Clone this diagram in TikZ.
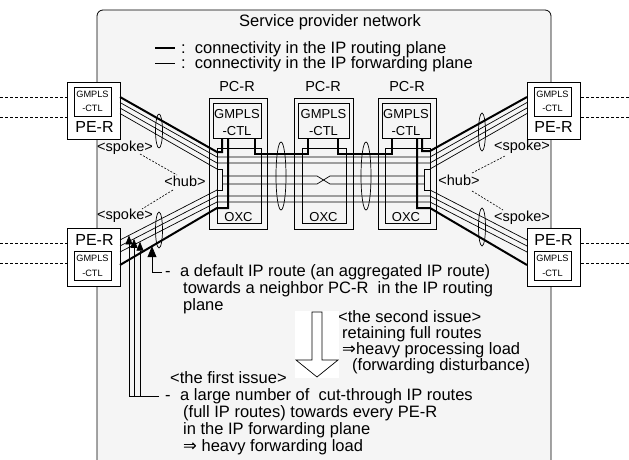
\documentclass[tikz,border=0pt]{standalone}
\usepackage{fontspec}
\setmainfont{Liberation Sans}
\newfontfamily\djv{DejaVu Sans}
\usetikzlibrary{arrows.meta,calc}
\definecolor{bgc}{HTML}{F5F5F5}
\begin{document}
\begin{tikzpicture}[x=1pt,y=-1pt,
  rline/.style={line width=2pt},
  fline/.style={line width=0.7pt},
  bx/.style={draw, line width=0.8pt, inner sep=0pt, outer sep=0pt},
  dashln/.style={line width=0.6pt, dash pattern=on 2pt off 1.5pt},
  edash/.style={line width=0.6pt, dash pattern=on 3pt off 2pt},
  ell/.style={line width=0.7pt},
  big/.style={inner sep=0pt, font=\fontsize{16.5pt}{17pt}\selectfont},
  tl/.style={big, anchor=base west},
  pet/.style={inner sep=0pt, anchor=base, font=\fontsize{16pt}{17pt}\selectfont},
  pct/.style={inner sep=0pt, anchor=base, font=\fontsize{14.5pt}{15pt}\selectfont},
  gt/.style={inner sep=0pt, anchor=base, font=\fontsize{13pt}{14pt}\selectfont},
  sgt/.style={inner sep=0pt, anchor=base, font=\fontsize{9.2pt}{10pt}\selectfont},
  lab/.style={inner sep=0pt, anchor=base, font=\fontsize{14.5pt}{15pt}\selectfont},
  tipa/.style={-{Triangle[length=9pt,width=7pt]}},
  bigtip/.style={-{Triangle[length=11pt,width=9pt]}}
]
\useasboundingbox (0,0) rectangle (629,460);
% service provider network box
\coordinate (bgbl) at (97,463); \coordinate (bgtr) at (551,10); \coordinate (bgbr) at (551,463);
\filldraw[fill=bgc, draw=black, line width=0.8pt, rounded corners=6pt] (bgbl) |- (bgtr) -- (bgbr);
\node[big, anchor=base] (title) at (330,26.5) {Service provider network};

% legend
\coordinate (lg1a) at (155,48); \coordinate (lg1b) at (175,48);
\coordinate (lg2a) at (155,63); \coordinate (lg2b) at (175,63);
\draw[rline] (lg1a) -- (lg1b);
\draw[fline] (lg2a) -- (lg2b);
\node[tl] (lg1) at (181,53.5) {:\ \ connectivity in the IP routing plane};
\node[tl] (lg2) at (181,68.5) {:\ \ connectivity in the IP forwarding plane};

% PC-R boxes
\node[pct] (pcLl) at (237,91.5) {PC-R};
\node[pct] (pcMl) at (323,91.5) {PC-R};
\node[pct] (pcRl) at (407,91.5) {PC-R};
\node[bx, minimum width=58pt, minimum height=131pt] (pcL) at (238,163.5) {};
\node[bx, minimum width=59pt, minimum height=131pt] (pcM) at (323.5,163.5) {};
\node[bx, minimum width=58pt, minimum height=131pt] (pcR) at (407,163.5) {};
\node[bx, minimum width=48pt, minimum height=35pt] (pcLg) at (237,120.5) {};
\node[bx, minimum width=51pt, minimum height=35pt] (pcMg) at (323.5,120.5) {};
\node[bx, minimum width=48pt, minimum height=35pt] (pcRg) at (406,120.5) {};
\node[bx, minimum width=44pt, minimum height=75pt] (pcLo) at (239,185.5) {};
\node[bx, minimum width=44pt, minimum height=75pt] (pcMo) at (324,185.5) {};
\node[bx, minimum width=45pt, minimum height=75pt] (pcRo) at (407.5,185.5) {};
\foreach \n/\x in {L/237,M/323.5,R/406}{
  \node[gt] (g1\n) at (\x,118) {GMPLS};
  \node[gt] (g2\n) at (\x,135) {-CTL};
}
\node[gt] (oxL) at (238.5,221) {OXC};
\node[gt] (oxM) at (323.5,221) {OXC};
\node[gt] (oxR) at (406,221) {OXC};

% PE-R boxes
\node[bx, fill=white, minimum width=53pt, minimum height=57pt] (pe1) at (93.5,110.5) {};
\node[bx, fill=white, minimum width=53pt, minimum height=58pt] (pe2) at (93.5,257) {};
\node[bx, fill=white, minimum width=53pt, minimum height=57pt] (pe3) at (553.5,110.5) {};
\node[bx, fill=white, minimum width=53pt, minimum height=58pt] (pe4) at (553.5,257) {};
\node[bx, minimum width=37pt, minimum height=29pt] (pe1g) at (92.5,101.5) {};
\node[bx, minimum width=37pt, minimum height=29pt] (pe2g) at (92.5,265.5) {};
\node[bx, minimum width=37pt, minimum height=29pt] (pe3g) at (552.5,101.5) {};
\node[bx, minimum width=37pt, minimum height=29pt] (pe4g) at (552.5,265.5) {};
\foreach \n/\x in {1/92.5,3/552.5}{
  \node[sgt] (s1\n) at (\x,97.3) {GMPLS};
  \node[sgt] (s2\n) at (\x,111.7) {-CTL};
}
\foreach \n/\x in {2/92.5,4/552.5}{
  \node[sgt] (s1\n) at (\x,261.7) {GMPLS};
  \node[sgt] (s2\n) at (\x,276) {-CTL};
}
\node[pet] (pt1) at (94.5,132.7) {PE-R};
\node[pet] (pt2) at (94.5,245.7) {PE-R};
\node[pet] (pt3) at (553.5,132.7) {PE-R};
\node[pet] (pt4) at (553.5,245.7) {PE-R};

% outer dashed links
\foreach \n/\y in {a/97,b/117}{
  \coordinate (el\n) at (0,\y); \coordinate (er\n) at (629,\y);
  \draw[edash] (el\n) -- (el\n -| pe1.west);
  \draw[edash] (er\n) -- (er\n -| pe3.east);
}
\foreach \n/\y in {c/243,d/263}{
  \coordinate (el\n) at (0,\y); \coordinate (er\n) at (629,\y);
  \draw[edash] (el\n) -- (el\n -| pe2.west);
  \draw[edash] (er\n) -- (er\n -| pe4.east);
}

% ports
\coordinate (p1r) at (120,97);  \coordinate (p1a) at (120,102.5); \coordinate (p1b) at (120,108); \coordinate (p1c) at (120,113.5);
\coordinate (p2a) at (120,240); \coordinate (p2b) at (120,246); \coordinate (p2c) at (120,252); \coordinate (p2r) at (120,265);
\coordinate (p3r) at (527,97);  \coordinate (p3a) at (527,102.5); \coordinate (p3b) at (527,108); \coordinate (p3c) at (527,113.5);
\coordinate (p4a) at (527,240); \coordinate (p4b) at (527,246); \coordinate (p4c) at (527,252); \coordinate (p4r) at (527,265);
\coordinate (qLa) at (217,157); \coordinate (qLb) at (217,163); \coordinate (qLc) at (217,169);
\coordinate (qLd) at (217,190); \coordinate (qLe) at (217,196); \coordinate (qLf) at (217,202);
\coordinate (qRa) at (430,157); \coordinate (qRb) at (430,163); \coordinate (qRc) at (430,169);
\coordinate (qRd) at (430,190); \coordinate (qRe) at (430,196); \coordinate (qRf) at (430,202);
\coordinate (hLb) at (222,190); \coordinate (hRt) at (424,169);

% forwarding plane (thin)
\draw[fline] (p1a) -- (qLa) -- (qRa) -- (p3a);
\draw[fline] (p1b) -- (qLb) -- (qRb) -- (p3b);
\draw[fline] (p1c) -- (qLc);
\draw[fline] (p3c) -- (qRc);
\draw[fline] (p2a) -- (qLd);
\draw[fline] (p4a) -- (qRd);
\draw[fline] (p2b) -- (qLe) -- (qRe) -- (p4b);
\draw[fline] (p2c) -- (qLf) -- (qRf) -- (p4c);
\draw[fline] (qLc) rectangle (hLb);
\draw[fline] (hRt) rectangle (qRd);
\coordinate (xa1) at (222,176); \coordinate (xa2) at (317,176); \coordinate (xa3) at (330,184); \coordinate (xa4) at (424,184);
\coordinate (xb1) at (222,184); \coordinate (xb2) at (317,184); \coordinate (xb3) at (330,176); \coordinate (xb4) at (424,176);
\draw[fline] (xa1) -- (xa2) -- (xa3) -- (xa4);
\draw[fline] (xb1) -- (xb2) -- (xb3) -- (xb4);

% routing plane (thick)
\draw[rline] (p1r) -- (217,152) -- (222,152) -- (222,138);
\draw[rline] (p2r) -- (217,208) -- (228,208) -- (228,138);
\draw[rline] (p3r) -- (430,151) -- (422,151) -- (422,138);
\draw[rline] (p4r) -- (430,208) -- (417,208) -- (417,138);
\draw[rline] (255,138) -- (255,154) -- (308,154) -- (308,138);
\draw[rline] (338,138) -- (338,154) -- (392,154) -- (392,138);

% bundle ellipses
\draw[ell] (159,131) ellipse [x radius=3.5, y radius=17];
\draw[ell] (159,230) ellipse [x radius=3.5, y radius=18];
\draw[ell] (281,176) ellipse [x radius=5, y radius=34];
\draw[ell] (366,176) ellipse [x radius=5, y radius=34];
\draw[ell] (482,132) ellipse [x radius=3.5, y radius=19];
\draw[ell] (482,227) ellipse [x radius=3.5, y radius=19];

% hub / spoke labels
\node[lab] (spTL) at (125,151.5) {<spoke>};
\node[lab] (hubL) at (185,186) {<hub>};
\node[lab] (spBL) at (125,219) {<spoke>};
\node[lab] (spTR) at (522,150) {<spoke>};
\node[lab] (hubR) at (459,185) {<hub>};
\node[lab] (spBR) at (522,221) {<spoke>};
\coordinate (d1a) at (140,154); \coordinate (d1b) at (177,175);
\coordinate (d2a) at (173,190); \coordinate (d2b) at (142,209);
\coordinate (d3a) at (472,173); \coordinate (d3b) at (505,156);
\coordinate (d4a) at (472,191); \coordinate (d4b) at (503,210);
\draw[dashln] (d1a) -- (d1b);
\draw[dashln] (d2a) -- (d2b);
\draw[dashln] (d3a) -- (d3b);
\draw[dashln] (d4a) -- (d4b);

% arrows to routes
\coordinate (a1) at ($(p2a)!{9/97}!(qLd)$);
\coordinate (a2) at ($(p2b)!{14/97}!(qLe)$);
\coordinate (a3) at ($(p2c)!{20/97}!(qLf)$);
\coordinate (a4) at ($(p2r)!{32/97}!(217,208)$);
\coordinate (b0) at (159,396);
\coordinate (h0) at (162,272);
\draw[fline,tipa] (b0) -| (a1);
\draw[fline,tipa] (a2 |- b0) -- (a2);
\draw[fline,tipa] (a3 |- b0) -- (a3);
\draw[fline,bigtip] (h0) -| (a4);

% texts
\node[tl] (m1) at (165,276) {-};
\node[tl] (t1) at (180,276) {a default IP route (an aggregated IP route)};
\node[tl] (t2) at (183,293) {towards a neighbor PC-R\ \ in the IP routing};
\node[tl] (t3) at (183,310) {plane};
\node[tl] (u1) at (338,322) {<the second issue>};
\node[tl] (u2) at (342,338) {retaining full routes};
\node[tl] (u3) at (342,354) {{\djv ⇒}heavy processing load};
\node[tl] (u4) at (352,370) {(forwarding disturbance)};
\node[tl] (v1) at (170,383) {<the first issue>};
\node[tl] (m2) at (165,400) {-};
\node[tl] (v2) at (180,400) {a large number of\ \ cut-through IP routes};
\node[tl] (v3) at (183,417) {(full IP routes) towards every PE-R};
\node[tl] (v4) at (183,434) {in the IP forwarding plane};
\node[tl] (v5) at (183,451) {{\djv ⇒} heavy forwarding load};

% hollow arrow
\node[fill=white, inner sep=0pt, minimum width=44pt, minimum height=67pt] (wbg) at (317,344.5) {};
\draw[line width=0.7pt, fill=white] (312,312) -- (322,312) -- (322,360) -- (338,360) -- (317,377) -- (296,360) -- (312,360) -- cycle;
\end{tikzpicture}
\end{document}
